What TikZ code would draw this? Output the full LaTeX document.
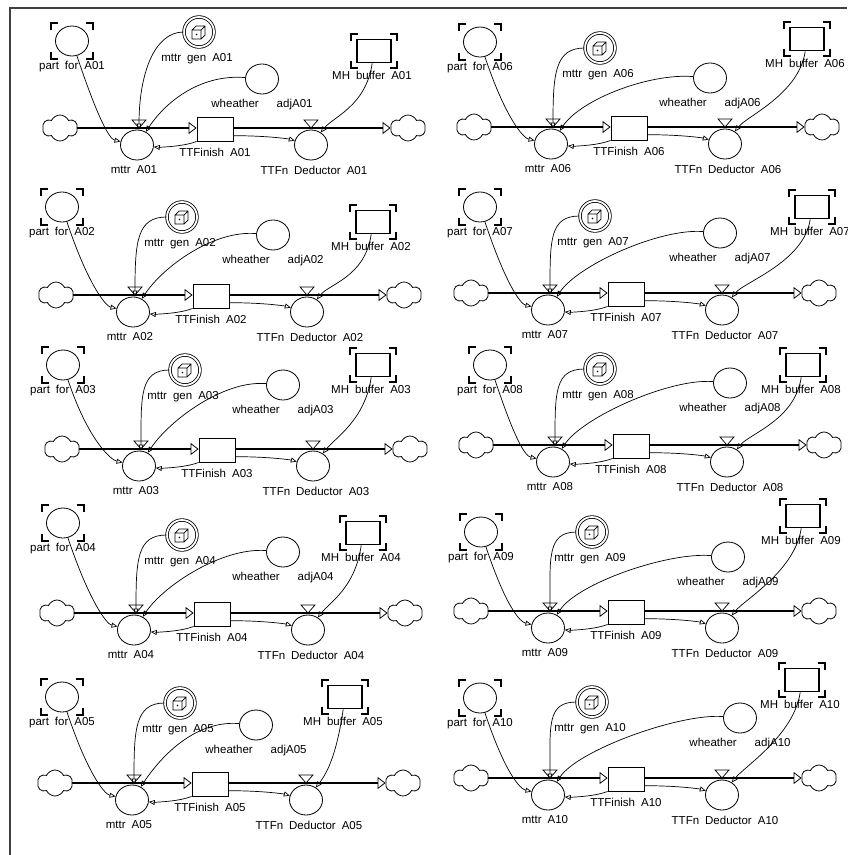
\documentclass[tikz,border=0pt]{standalone}
\usepackage{fontspec}
\setmainfont{Liberation Sans}
\usetikzlibrary{arrows.meta,shapes.geometric,shapes.symbols}
\newcommand{\wsp}{\hspace{6pt}}
\begin{document}
\begin{tikzpicture}[x=1pt, y=-1pt, line width=0.8pt,
    conv/.style={draw, ellipse, minimum width=33pt, minimum height=30pt, inner sep=0pt},
    gencirc/.style={draw, circle, double, double distance=1.8pt, minimum size=30pt, inner sep=0pt},
    stockbox/.style={draw, rectangle, minimum width=36pt, minimum height=24pt, inner sep=0pt},
    bufbox/.style={stockbox, line width=1.6pt, minimum width=34pt, minimum height=23pt},
    sky/.style={draw, cloud, cloud puffs=6, cloud puff arc=130, aspect=1.35, minimum width=35pt, minimum height=26pt, inner sep=0pt},
    lbl/.style={font=\fontsize{11.5}{13}\selectfont, text=black, inner sep=0pt},
    pipe/.style={line width=2.4pt, -{Triangle[open, length=8pt, width=12pt, line width=0.8pt]}},
    conn/.style={line width=0.7pt, -{Triangle[open, length=6pt, width=5pt]}},
    valve/.style={draw, fill=white, line width=0.7pt},
    corner/.style={line width=1.2pt}]
    \useasboundingbox (0,0) rectangle (847,855);
    \draw [line width=1.5pt, black!75] (10,855)--(10,8)--(847,8);
    % one stock-and-flow block per part
    \foreach \id/\mx/\fy/\pf/\gn/\wa/\mb in {
        A01/137/128/{72,41}/{199,32}/{262,79}/{374,51},
        A02/133/295/{62,207}/{182,217}/{273,235}/{373,222},
        A03/139/449/{63,365}/{185,370}/{283,385}/{373,365},
        A04/134/613/{63,523}/{182,535}/{283,552}/{363,533},
        A05/132/783/{62,697}/{180,703}/{256,725}/{345,697},
        A06/551/127/{480,42}/{600,48}/{710,78}/{807,39},
        A07/548/293/{480,207}/{595,216}/{720,233}/{812,207},
        A08/553/445/{490,365}/{600,369}/{730,383}/{803,365},
        A09/548/611/{481,532}/{592,532}/{728,557}/{803,516},
        A10/548/778/{480,698}/{592,702}/{740,718}/{802,680}}{
    \node [sky] (src\id) at (\mx-77,\fy) {};
    \node [sky] (snk\id) at (\mx+271,\fy) {};
    \node [stockbox] (fin\id) at (\mx+78,\fy+1) {};
    \node [conv] (mttr\id) at (\mx,\fy+17) {};
    \node [conv] (ded\id) at (\mx+174,\fy+17) {};
    \node [conv] (part\id) at (\pf) {};
    \node [gencirc] (gen\id) at (\gn) {};
    \node [conv] (wh\id) at (\wa) {};
    \node [bufbox] (buf\id) at (\mb) {};
    % labels
    \node [lbl] at ([xshift=-3pt, yshift=-25pt]mttr\id) {mttr\wsp \id};
    \node [lbl] at ([yshift=-23pt]fin\id) {TTFinish\wsp \id};
    \node [lbl] at ([xshift=3pt, yshift=-25pt]ded\id) {TTFn\wsp Deductor\wsp \id};
    \node [lbl] at ([yshift=-26pt]part\id) {part\wsp for\wsp \id};
    \node [lbl] at ([xshift=-2pt, yshift=-27pt]gen\id) {mttr\wsp gen\wsp \id};
    \node [lbl] at ([yshift=-26pt]wh\id) {wheather\hspace{18pt}adj\id};
    \node [lbl] at ([xshift=-2pt, yshift=-24pt]buf\id) {MH\wsp buffer\wsp \id};
    % brackets and cube icon
    \foreach \sx/\sy in {1/1,1/-1,-1/1,-1/-1}{
        \draw [corner, shift={(part\id)}] (\sx*21,\sy*11)--(\sx*21,\sy*18)--(\sx*14,\sy*18);
        \draw [corner, shift={(buf\id)}] (\sx*23,\sy*10)--(\sx*23,\sy*17)--(\sx*16,\sy*17);
    }
    \draw [shift={(gen\id)}, line width=0.7pt] (-7,-2) rectangle (2,7) (-7,-2)--(-3,-6)--(6,-6)--(6,3)--(2,7) (2,-2)--(6,-6);
    \fill [shift={(gen\id)}] (-2.5,2.5) circle (0.9);
    % flows
    \draw [pipe] (src\id.east)--(src\id.east -| fin\id.west);
    \draw [pipe] (fin\id.east |- snk\id.west)--(snk\id.west);
    \draw [valve] (\mx-5,\fy-8)--(\mx+9,\fy-8)--(\mx+2,\fy)--cycle;
    \draw [valve] (\mx+167,\fy-8)--(\mx+181,\fy-8)--(\mx+174,\fy)--cycle;
    % connectors
    \draw [conn] (part\id) .. controls +(25,75) and +(-28,-6) .. (mttr\id);
    \draw [conn] (gen\id) .. controls +(-45,0) and +(0,-55) .. ([xshift=2pt]mttr\id.north);
    \draw [conn] (wh\id) .. controls +(-60,-5) and +(30,-45) .. (mttr\id);
    \draw [conn] (fin\id.south west) .. controls +(-15,6) and +(18,2) .. (mttr\id);
    \draw [conn] (fin\id.-20) .. controls +(35,0) and +(-22,-6) .. (ded\id);
    \draw [conn] (buf\id) .. controls +(-8,55) and +(22,-28) .. (ded\id);
    }
\end{tikzpicture}
\end{document}
